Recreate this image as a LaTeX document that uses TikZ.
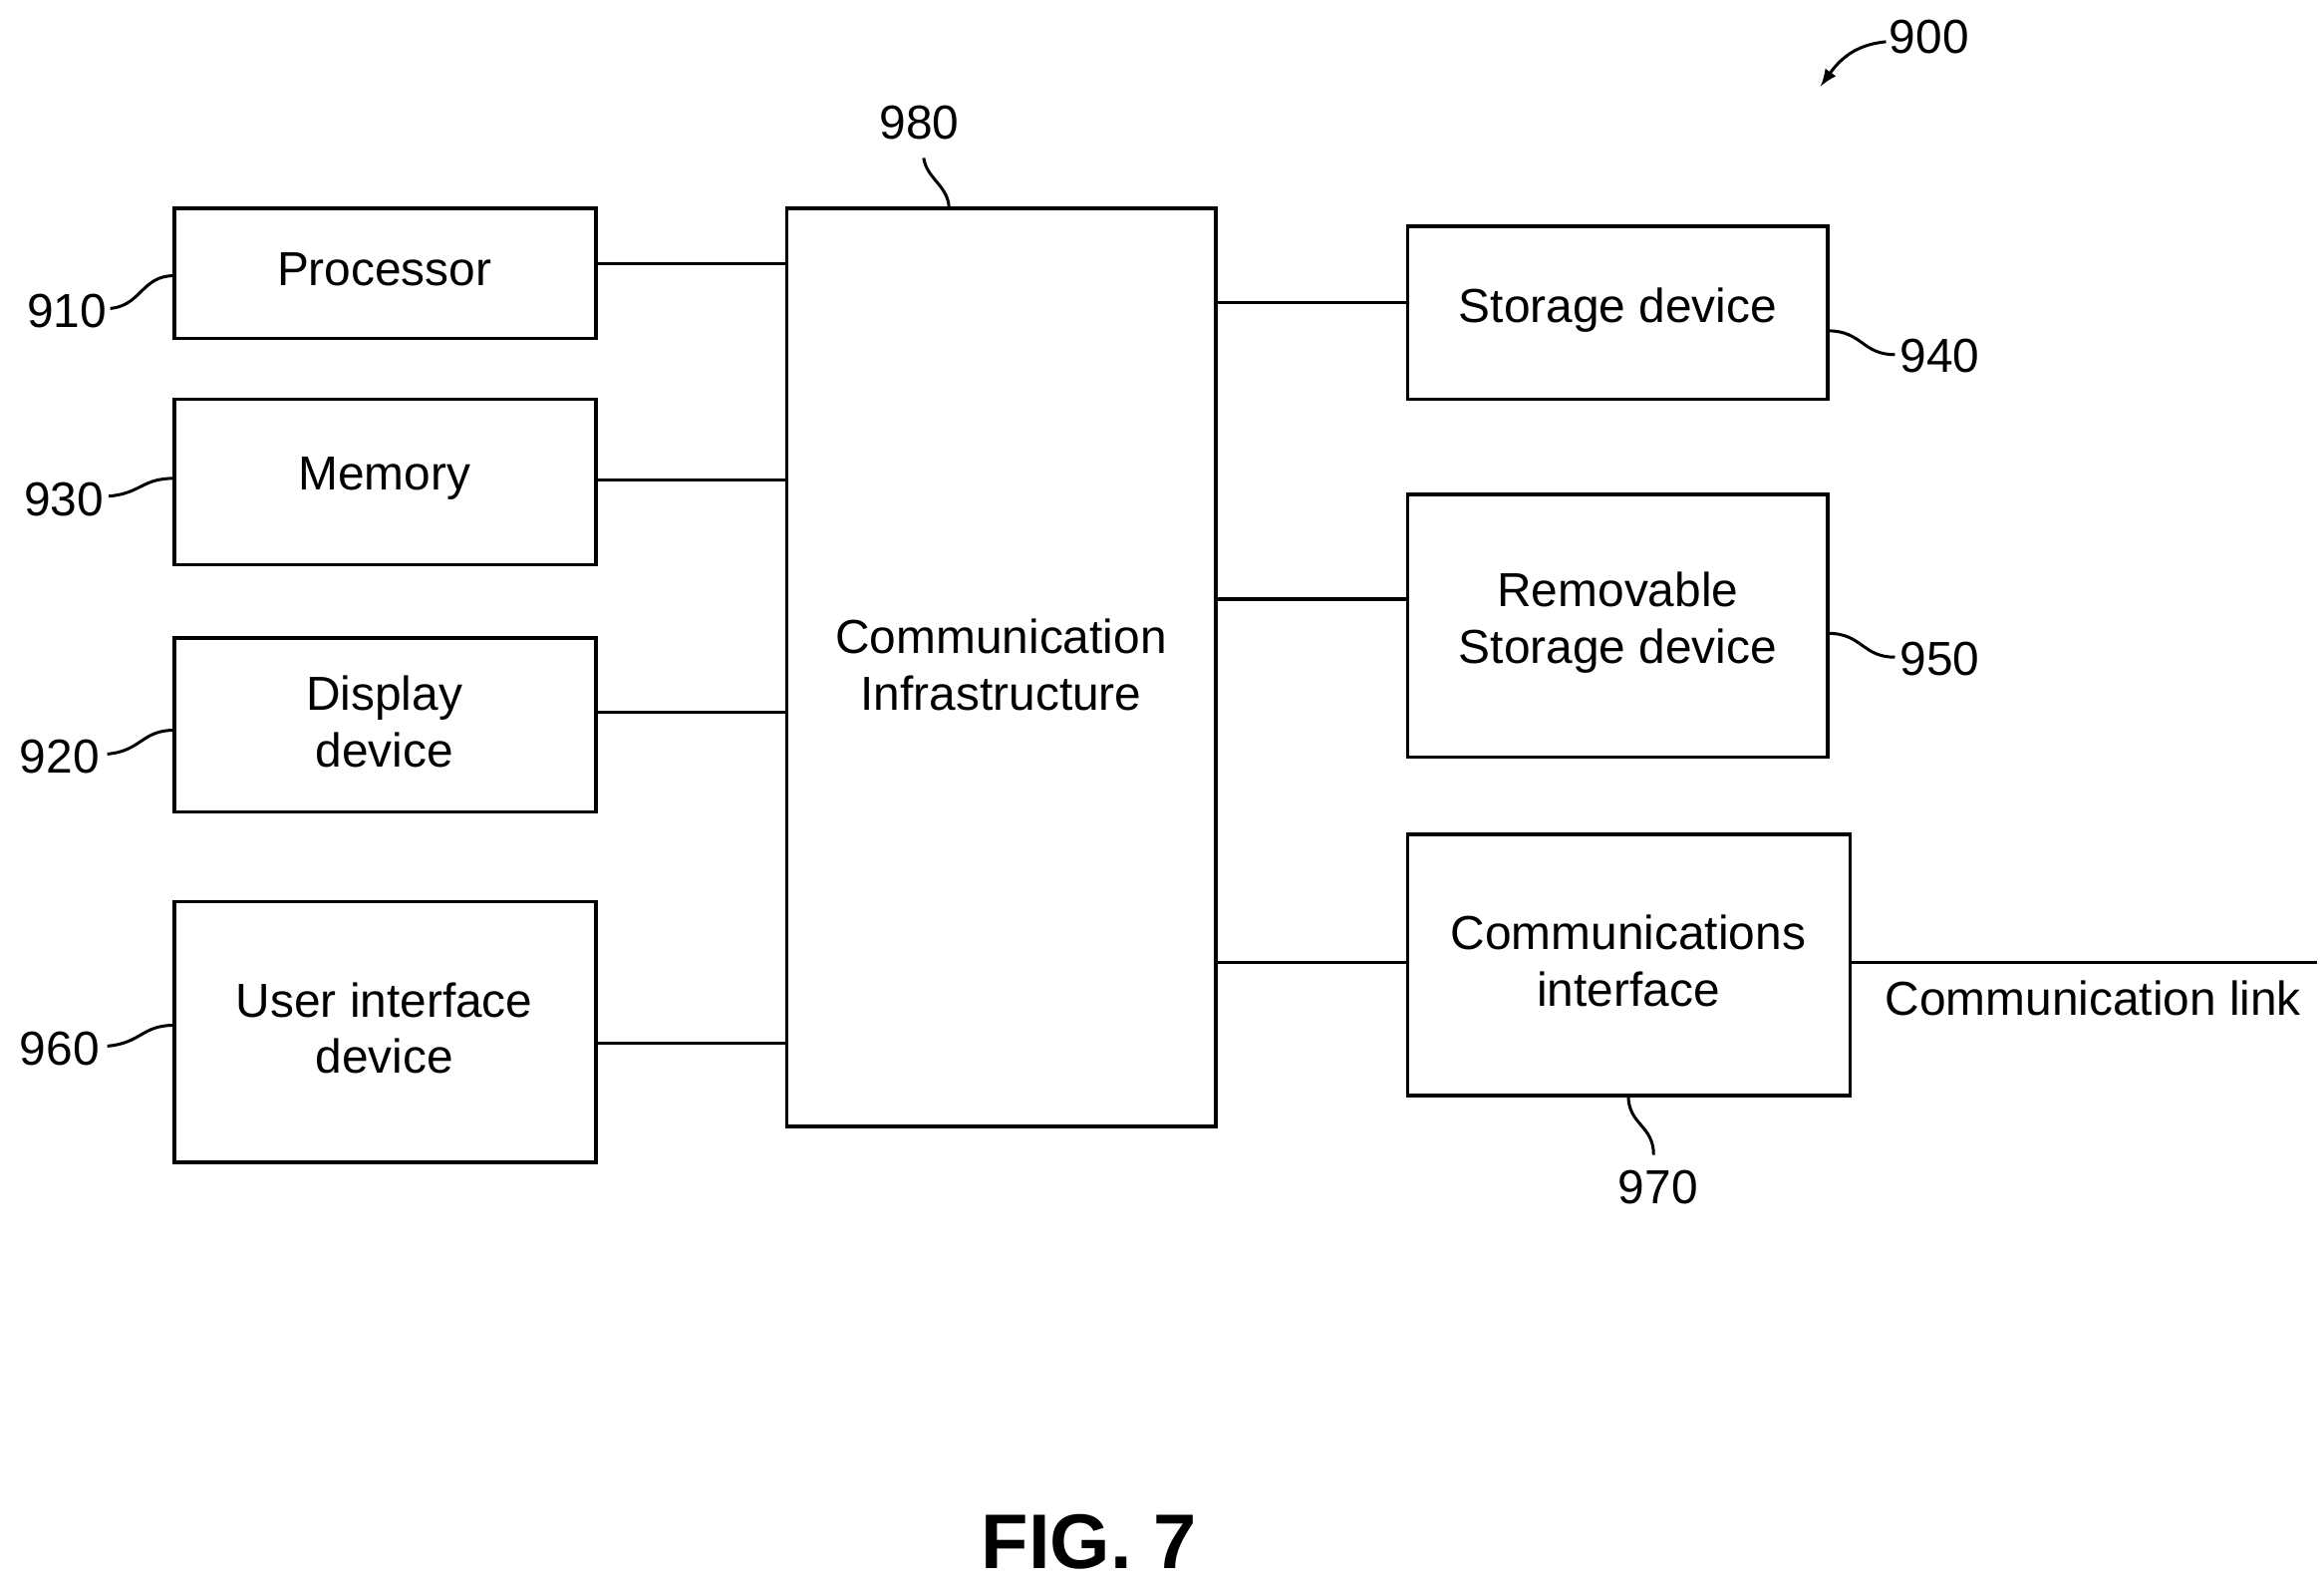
\documentclass[tikz,border=0pt]{standalone}
\usepackage{fontspec}
\setmainfont{Liberation Sans}
\begin{document}
\begin{tikzpicture}[x=0.5pt,y=-0.5pt,
  box/.style={draw,line width=1.2pt,inner sep=0pt,align=center,font=\fontsize{16}{19}\selectfont},
  lbl/.style={font=\fontsize{16}{19}\selectfont,inner sep=1pt},
  ln/.style={line width=1.1pt},
  sq/.style={line width=1pt}]
\useasboundingbox (0,0) rectangle (1560,1063);
\newcommand{\bx}[4]{\node[box,minimum width={(#3-#1)*0.5pt},minimum height={(#4-#2)*0.5pt}] at ({(#1+#3)/2},{(#2+#4)/2})}
\bx{117}{140}{400}{227} (p) {};
\node[lbl] at (258,181) {Processor};
\bx{117}{268}{400}{379} (m) {};
\node[lbl] at (258,321) {Memory};
\bx{117}{428}{400}{545} (d) {};
\node[lbl,align=center] at (258,484) {Display\\device};
\bx{117}{605}{400}{780} (u) {};
\node[lbl,align=center] at (258,690) {User interface\\device};
\bx{528}{140}{816}{756} (c) {};
\node[lbl,align=center] at (672,446) {Communication\\Infrastructure};
\bx{945}{152}{1227}{268} (s) {};
\node[lbl] at (1086,208) {Storage device};
\bx{945}{332}{1227}{508} (r) {};
\node[lbl,align=center] at (1086,418) {Removable\\Storage device};
\bx{945}{560}{1242}{735} (ci) {};
\node[lbl,align=center] at (1093,645) {Communications\\interface};
\coordinate (cl) at (1555,646);
\node[lbl] at (1405,670) {Communication link};
\draw[ln] (p.east |- 0,177) -- (c.west |- 0,177);
\draw[ln] (m.east |- 0,322) -- (c.west |- 0,322);
\draw[ln] (d.east |- 0,478) -- (c.west |- 0,478);
\draw[ln] (u.east |- 0,700) -- (c.west |- 0,700);
\draw[ln] (c.east |- 0,203) -- (s.west |- 0,203);
\draw[ln] (c.east |- 0,402) -- (r.west |- 0,402);
\draw[ln] (c.east |- 0,646) -- (ci.west |- 0,646);
\draw[ln] (ci.east |- 0,646) -- (cl);
% reference labels
\node[lbl] (l910) at (45,209) {910};
\draw[sq] (74,207) .. controls (95,205) and (95,185) .. (117,185);
\node[lbl] (l930) at (43,335) {930};
\draw[sq] (73,333) .. controls (95,331) and (95,321) .. (117,321);
\node[lbl] (l920) at (40,508) {920};
\draw[sq] (72,506) .. controls (95,504) and (95,490) .. (117,490);
\node[lbl] (l960) at (40,704) {960};
\draw[sq] (72,702) .. controls (95,700) and (95,688) .. (117,688);
\node[lbl] (l940) at (1302,239) {940};
\draw[sq] (1227,222) .. controls (1250,222) and (1250,238) .. (1272,238);
\node[lbl] (l950) at (1302,442) {950};
\draw[sq] (1227,425) .. controls (1250,425) and (1250,441) .. (1272,441);
\node[lbl] (l970) at (1113,797) {970};
\draw[sq] (1093,735) .. controls (1093,755) and (1110,755) .. (1110,775);
\node[lbl] (l980) at (617,82) {980};
\draw[sq] (620,106) .. controls (622,120) and (637,125) .. (637,140);
\node[lbl] (l900) at (1295,25) {900};
\draw[sq,-latex] (1266,28) .. controls (1245,30) and (1235,40) .. (1222,58);
\node[font=\bfseries\fontsize{26}{30}\selectfont] at (731,1035) {FIG. 7};
\end{tikzpicture}
\end{document}
